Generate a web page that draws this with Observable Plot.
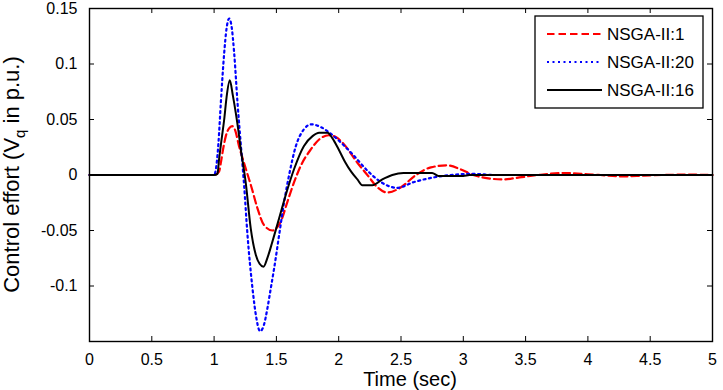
<!DOCTYPE html>
<html><head><meta charset="utf-8">
<script src="https://cdn.jsdelivr.net/npm/d3@7"></script>
<script src="https://cdn.jsdelivr.net/npm/@observablehq/plot@0.6"></script>
<style>
html,body{margin:0;padding:0;background:#fff;}
#chart svg{display:block;}
</style></head><body><div id="chart"></div>
<script>
// ---- data ----
const seriesNames = ["NSGA-II:1", "NSGA-II:20", "NSGA-II:16"];

const tRed = [0, 1.0, 1.04, 1.054, 1.075, 1.094, 1.12, 1.145, 1.17, 1.2, 1.24, 1.27, 1.30, 1.348, 1.40, 1.468, 1.50, 1.535, 1.589, 1.642, 1.696, 1.776, 1.843, 1.92, 1.98, 2.04, 2.15, 2.23, 2.31, 2.39, 2.5, 2.62, 2.74, 2.87, 2.98, 3.08, 3.2, 3.32, 3.45, 3.6, 3.81, 4.0, 4.1, 4.27, 4.45, 4.6, 4.8, 5];
const vRed = [0, 0, 0.003, 0.011, 0.025, 0.035, 0.042, 0.044, 0.04, 0.026, 0.011, 0, -0.011, -0.030, -0.045, -0.050, -0.048, -0.042, -0.024, -0.0065, 0.0084, 0.023, 0.032, 0.0358, 0.034, 0.028, 0.011, 0, -0.011, -0.0158, -0.011, 0, 0.0069, 0.0087, 0.005, 0, -0.003, -0.004, -0.0022, 0, 0.0018, 0.0007, 0, -0.0013, -0.0006, 0, 0.0003, 0];

const tBlue = [0, 1.0, 1.014, 1.035, 1.054, 1.081, 1.10, 1.121, 1.14, 1.161, 1.188, 1.214, 1.241, 1.268, 1.308, 1.335, 1.369, 1.40, 1.428, 1.455, 1.482, 1.522, 1.562, 1.602, 1.656, 1.72, 1.78, 1.86, 1.96, 2.1, 2.23, 2.34, 2.47, 2.6, 2.77, 2.9, 3.08, 3.25, 5];
const vBlue = [0, 0, 0.005, 0.029, 0.065, 0.11, 0.132, 0.141, 0.134, 0.11, 0.065, 0.028, -0.0095, -0.054, -0.102, -0.126, -0.1407, -0.135, -0.12, -0.102, -0.084, -0.054, -0.0244, 0, 0.026, 0.041, 0.0456, 0.043, 0.035, 0.02, 0.004, -0.0065, -0.0116, -0.0065, -0.002, 0, 0.001, 0, 0];

const tBlack = [0, 1.0, 1.027, 1.04, 1.06, 1.081, 1.10, 1.126, 1.15, 1.174, 1.195, 1.214, 1.235, 1.254, 1.294, 1.335, 1.365, 1.396, 1.43, 1.468, 1.522, 1.575, 1.642, 1.72, 1.79, 1.843, 1.91, 1.95, 2.0, 2.05, 2.10, 2.15, 2.19, 2.27, 2.35, 2.43, 2.52, 2.75, 2.8, 3.0, 3.05, 5];
const vBlack = [0, 0, 0.001, 0.0143, 0.032, 0.05, 0.07, 0.0853, 0.072, 0.056, 0.04, 0.023, 0.008, -0.007, -0.048, -0.072, -0.080, -0.0826, -0.074, -0.060, -0.039, -0.018, 0.0054, 0.026, 0.035, 0.038, 0.038, 0.033, 0.023, 0.012, 0.003, -0.004, -0.0092, -0.0092, -0.004, 0, 0.0018, 0.0018, -0.0008, -0.0008, 0, 0];

const xTicks = [0, 0.5, 1, 1.5, 2, 2.5, 3, 3.5, 4, 4.5, 5];
const yTicks = [-0.1, -0.05, 0, 0.05, 0.1, 0.15];
const xTickLabels = ["0", "0.5", "1", "1.5", "2", "2.5", "3", "3.5", "4", "4.5", "5"];
const yTickLabels = ["-0.1", "-0.05", "0", "0.05", "0.1", "0.15"];
const xTitle = "Time (sec)";
const yTitleMain = "Control effort (V";
const yTitleSub = "q";
const yTitleEnd = " in p.u.)";

// ---- build table ----
function toRows(name, ts, vs) { return ts.map((t, i) => ({series: name, t, v: vs[i]})); }
const rowsRed = toRows(seriesNames[0], tRed, vRed);
const rowsBlue = toRows(seriesNames[1], tBlue, vBlue);
const rowsBlack = toRows(seriesNames[2], tBlack, vBlack);

const styles = [
  {color: "#ff0000", dash: "7.5,4", width: 2.2},
  {color: "#0000ff", dash: "2,3.5", width: 2.2},
  {color: "#000000", dash: null, width: 2}
];

const W = 723, H = 390, mL = 89, mR = 11, mT = 8, mB = 49;
const plotW = W - mL - mR, plotH = H - mT - mB;
const FONT = "'Liberation Sans', Arial, Helvetica, sans-serif";

const lineOpts = (s) => ({x: "t", y: "v", stroke: s.color, strokeWidth: s.width, strokeDasharray: s.dash, curve: "monotone-x"});

const chart = Plot.plot({
  width: W, height: H,
  marginLeft: mL, marginRight: mR, marginTop: mT, marginBottom: mB,
  style: {fontFamily: FONT, fontSize: "16px", color: "black", background: "white"},
  x: {domain: [0, 5]},
  y: {domain: [-0.15, 0.15]},
  marks: [
    Plot.gridX(xTicks, {stroke: "black", strokeOpacity: 1, strokeWidth: 1, insetTop: plotH - 5}),
    Plot.gridX(xTicks, {stroke: "black", strokeOpacity: 1, strokeWidth: 1, insetBottom: plotH - 5}),
    Plot.gridY(yTicks, {stroke: "black", strokeOpacity: 1, strokeWidth: 1, insetRight: plotW - 5}),
    Plot.gridY(yTicks, {stroke: "black", strokeOpacity: 1, strokeWidth: 1, insetLeft: plotW - 5}),
    Plot.axisX(xTicks, {tickSize: 0, tickPadding: 12, tickFormat: (d) => xTickLabels[xTicks.indexOf(d)], label: null, fontSize: 16}),
    Plot.axisY(yTicks, {tickSize: 0, tickPadding: 12, tickFormat: (d) => yTickLabels[yTicks.indexOf(d)], label: null, fontSize: 16}),
    Plot.line(rowsRed, lineOpts(styles[0])),
    Plot.line(rowsBlue, lineOpts(styles[1])),
    Plot.line(rowsBlack, lineOpts(styles[2])),
    Plot.frame({stroke: "black", strokeWidth: 1.4})
  ]
});

const svg = d3.select(chart);

// x-axis title
svg.append("text")
  .attr("x", 410).attr("y", 386)
  .attr("text-anchor", "middle")
  .attr("font-family", FONT).attr("font-size", 20)
  .attr("fill", "black")
  .text(xTitle);

// y-axis title with subscript
const yt = svg.append("text")
  .attr("transform", `translate(19,${mT + plotH / 2}) rotate(-90)`)
  .attr("text-anchor", "middle")
  .attr("font-family", FONT).attr("font-size", 22)
  .attr("fill", "black");
yt.append("tspan").text(yTitleMain);
yt.append("tspan").attr("font-size", 15).attr("dy", 6).text(yTitleSub);
yt.append("tspan").attr("dy", -6).text(yTitleEnd);

// legend
const lg = svg.append("g");
lg.append("rect").attr("x", 535).attr("y", 16).attr("width", 168).attr("height", 92)
  .attr("fill", "white").attr("stroke", "black").attr("stroke-width", 1.3);
const rowY = [34, 62, 90];
seriesNames.forEach((name, i) => {
  const s = styles[i];
  lg.append("line").attr("x1", 547).attr("x2", 602).attr("y1", rowY[i]).attr("y2", rowY[i])
    .attr("stroke", s.color).attr("stroke-width", s.width)
    .attr("stroke-dasharray", s.dash);
  lg.append("text").attr("x", 607).attr("y", rowY[i]).attr("dy", "0.35em")
    .attr("text-anchor", "start")
    .attr("font-family", FONT).attr("font-size", 17).attr("fill", "black")
    .text(name);
});

document.getElementById("chart").appendChild(chart);
</script>
</body></html>
